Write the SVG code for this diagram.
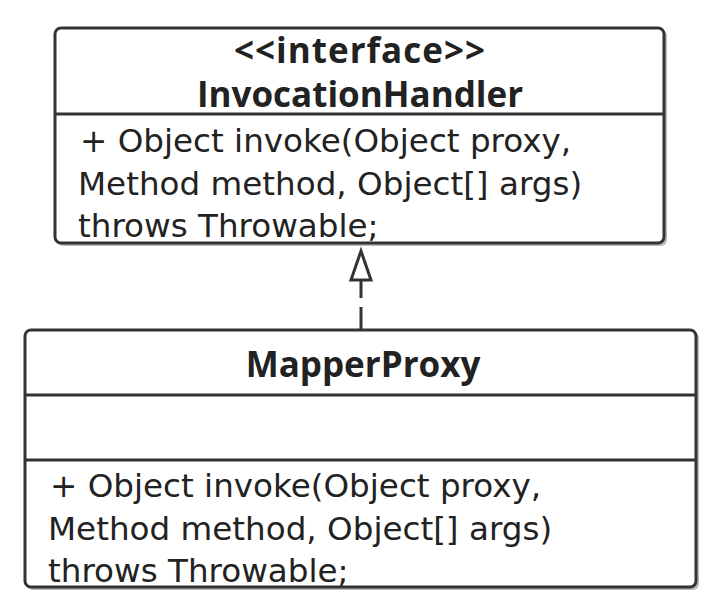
<svg xmlns="http://www.w3.org/2000/svg" width="719" height="606" viewBox="0 0 719 606">
<style>
.box{fill:#fff;stroke:#333;stroke-width:3}
.shadow{fill:#bbb;stroke:none}
.div{stroke:#333;stroke-width:3}
.title{font-family:"Open Sans","Liberation Sans",sans-serif;font-weight:bold;font-size:35px;fill:#222;text-anchor:middle}
.member{font-family:"DejaVu Sans","Liberation Sans",sans-serif;font-size:32.6px;fill:#222}
.conn{fill:none;stroke:#333;stroke-width:3}
</style>
<rect width="719" height="606" fill="#fff"/>
<g id="InvocationHandler">
<rect class="shadow" x="57" y="30" width="610" height="216" rx="6"/>
<rect class="box" x="55" y="28" width="609" height="215" rx="6"/>
<line class="div" x1="55" y1="114" x2="664" y2="114"/>
<text class="title" x="360" y="63" letter-spacing="1">&lt;&lt;interface&gt;&gt;</text>
<text class="title" x="360" y="107">InvocationHandler</text>
<text class="member" x="80" y="152">+ Object invoke(Object proxy,</text>
<text class="member" x="78" y="195">Method method, Object[] args)</text>
<text class="member" x="78" y="237">throws Throwable;</text>
</g>
<g id="MapperProxy">
<rect class="shadow" x="27" y="332" width="672" height="258" rx="6"/>
<rect class="box" x="25" y="330" width="671" height="257" rx="6"/>
<line class="div" x1="25" y1="395" x2="696" y2="395"/>
<line class="div" x1="25" y1="460" x2="696" y2="460"/>
<text class="title" x="363" y="377">MapperProxy</text>
<text class="member" x="50" y="497">+ Object invoke(Object proxy,</text>
<text class="member" x="48" y="540">Method method, Object[] args)</text>
<text class="member" x="48" y="582">throws Throwable;</text>
</g>
<g id="connectors">
<path class="conn" d="M361 330 L361 280" stroke-dasharray="23 9"/>
<path class="conn" d="M361 251 L351 280 L371 280 Z" fill="#fff" stroke-linejoin="miter"/>
</g>
</svg>
